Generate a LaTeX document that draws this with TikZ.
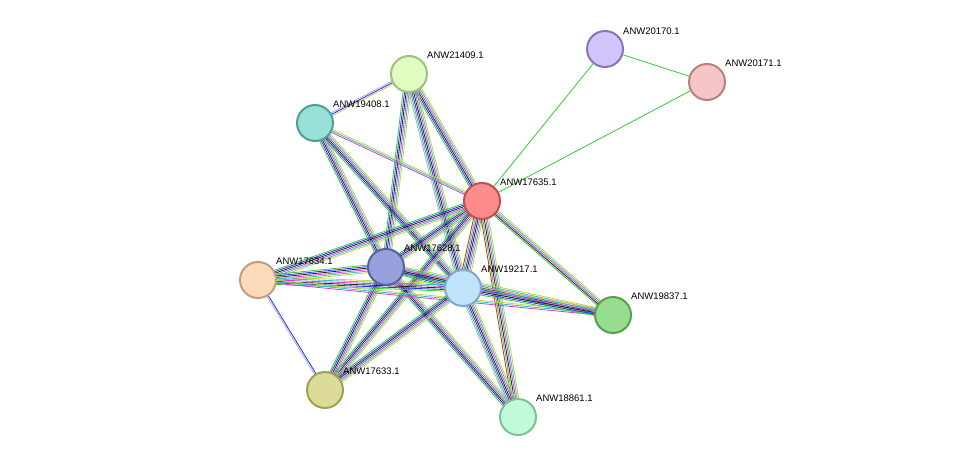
\documentclass[tikz,border=0pt]{standalone}
\usepackage{fontspec}
\setmainfont{Liberation Sans}
\usetikzlibrary{calc}
\definecolor{cNb}{HTML}{33CC33}
\definecolor{cFu}{HTML}{E02020}
\definecolor{cCo}{HTML}{2030F0}
\definecolor{cCx}{HTML}{202020}
\definecolor{cEx}{HTML}{D040D0}
\definecolor{cDb}{HTML}{30C0C0}
\definecolor{cTm}{HTML}{C8D040}
\definecolor{cHo}{HTML}{A8A8F0}
\tikzset{
  prot/.style={circle,minimum size=36pt,inner sep=0pt,line width=2pt},
  lab/.style={font=\fontsize{9.5}{11}\selectfont,anchor=south west,inner sep=1pt},
  ed/.style={line width=0.8pt}
}
\newcommand\myedge[3]{%
  \foreach \c [count=\i] in {#3} {\global\let\nn\i}%
  \foreach \c [count=\i] in {#3} {%
    \pgfmathsetmacro\off{(\i-(\nn+1)/2)*1.5}%
    \draw[ed,draw=\c] ($(#1)!\off pt!90:(#2)$) -- ($(#2)!\off pt!-90:(#1)$);%
  }}
\begin{document}
\begin{tikzpicture}[x=1pt,y=-1pt]
\useasboundingbox (0,0) rectangle (975,463);
\fill[white] (0,0) rectangle (975,463);
\coordinate (n20170) at (605,49);
\coordinate (n20171) at (707,82);
\coordinate (n21409) at (409,74);
\coordinate (n19408) at (315,123);
\coordinate (n17635) at (482,201);
\coordinate (n17628) at (386,267);
\coordinate (n17634) at (258,280);
\coordinate (n19217) at (463,288);
\coordinate (n19837) at (613,315);
\coordinate (n17633) at (325,390);
\coordinate (n18861) at (518,417);
\myedge{n20170}{n17635}{cNb}
\myedge{n20171}{n17635}{cNb}
\myedge{n20170}{n20171}{cNb}
\myedge{n21409}{n19408}{cHo,cCo,cTm}
\myedge{n21409}{n17635}{cNb,cCo,cCx,cEx,cDb,cTm}
\myedge{n21409}{n17628}{cNb,cCo,cCx,cEx,cDb,cTm}
\myedge{n21409}{n19217}{cHo,cNb,cCo,cCx,cEx,cDb,cTm}
\myedge{n19408}{n17635}{cEx,cDb,cTm}
\myedge{n19408}{n17628}{cNb,cCo,cCx,cEx,cDb,cTm}
\myedge{n19408}{n19217}{cNb,cCo,cCx,cEx,cDb,cTm}
\myedge{n17635}{n17628}{cNb,cCo,cCx,cEx,cDb,cTm}
\myedge{n17635}{n17634}{cNb,cCo,cCx,cEx,cDb,cTm}
\myedge{n17635}{n19217}{cFu,cNb,cCo,cCx,cEx,cDb,cTm}
\myedge{n17635}{n19837}{cNb,cCx,cEx,cDb,cTm}
\myedge{n17635}{n17633}{cNb,cCo,cCx,cEx,cDb,cTm}
\myedge{n17635}{n18861}{cFu,cNb,cCx,cEx,cDb,cTm}
\myedge{n17628}{n17634}{cNb,cCo,cCx,cEx,cDb,cTm}
\myedge{n17628}{n19217}{cNb,cCo,cCx,cEx,cDb,cTm}
\myedge{n17628}{n19837}{cNb,cCo,cCx,cEx,cDb,cTm}
\myedge{n17628}{n17633}{cNb,cCo,cCx,cEx,cDb,cTm}
\myedge{n17628}{n18861}{cNb,cCo,cCx,cEx,cDb,cTm}
\myedge{n17634}{n19217}{cNb,cCo,cCx,cEx,cDb,cTm}
\myedge{n17634}{n19837}{cEx,cDb,cTm}
\myedge{n17634}{n17633}{cHo,cCo}
\myedge{n19217}{n19837}{cNb,cCo,cCx,cEx,cDb,cTm}
\myedge{n19217}{n17633}{cNb,cCo,cCx,cEx,cDb,cTm}
\myedge{n19217}{n18861}{cHo,cNb,cCo,cCx,cEx,cDb,cTm}
\node[prot,fill={rgb,255:red,212;green,196;blue,252},draw={rgb,255:red,141;green,115;blue,184}] (a) at (n20170) {};
\node[prot,fill={rgb,255:red,246;green,198;blue,198},draw={rgb,255:red,184;green,128;blue,128}] (b) at (n20171) {};
\node[prot,fill={rgb,255:red,224;green,252;blue,192},draw={rgb,255:red,160;green,192;blue,128}] (c) at (n21409) {};
\node[prot,fill={rgb,255:red,152;green,224;blue,216},draw={rgb,255:red,80;green,160;blue,152}] (d) at (n19408) {};
\node[prot,fill={rgb,255:red,252;green,140;blue,140},draw={rgb,255:red,192;green,80;blue,80}] (e) at (n17635) {};
\node[prot,fill={rgb,255:red,152;green,160;blue,220},draw={rgb,255:red,88;green,96;blue,160}] (f) at (n17628) {};
\node[prot,fill={rgb,255:red,252;green,218;blue,186},draw={rgb,255:red,192;green,160;blue,128}] (g) at (n17634) {};
\node[prot,fill={rgb,255:red,192;green,228;blue,252},draw={rgb,255:red,128;green,168;blue,200}] (h) at (n19217) {};
\node[prot,fill={rgb,255:red,152;green,220;blue,144},draw={rgb,255:red,88;green,160;blue,80}] (i) at (n19837) {};
\node[prot,fill={rgb,255:red,220;green,220;blue,152},draw={rgb,255:red,160;green,160;blue,88}] (j) at (n17633) {};
\node[prot,fill={rgb,255:red,192;green,252;blue,216},draw={rgb,255:red,128;green,192;blue,152}] (k) at (n18861) {};
\node[lab] (la) at ($(n20170)+(17,-13)$) {ANW20170.1};
\node[lab] (lb) at ($(n20171)+(17,-14)$) {ANW20171.1};
\node[lab] (lc) at ($(n21409)+(17,-14)$) {ANW21409.1};
\node[lab] (ld) at ($(n19408)+(17,-14)$) {ANW19408.1};
\node[lab] (le) at ($(n17635)+(17,-14)$) {ANW17635.1};
\node[lab] (lf) at ($(n17628)+(17,-14)$) {ANW17628.1};
\node[lab] (lg) at ($(n17634)+(17,-14)$) {ANW17634.1};
\node[lab] (lh) at ($(n19217)+(17,-14)$) {ANW19217.1};
\node[lab] (li) at ($(n19837)+(17,-14)$) {ANW19837.1};
\node[lab] (lj) at ($(n17633)+(17,-14)$) {ANW17633.1};
\node[lab] (lk) at ($(n18861)+(17,-14)$) {ANW18861.1};
\end{tikzpicture}
\end{document}
